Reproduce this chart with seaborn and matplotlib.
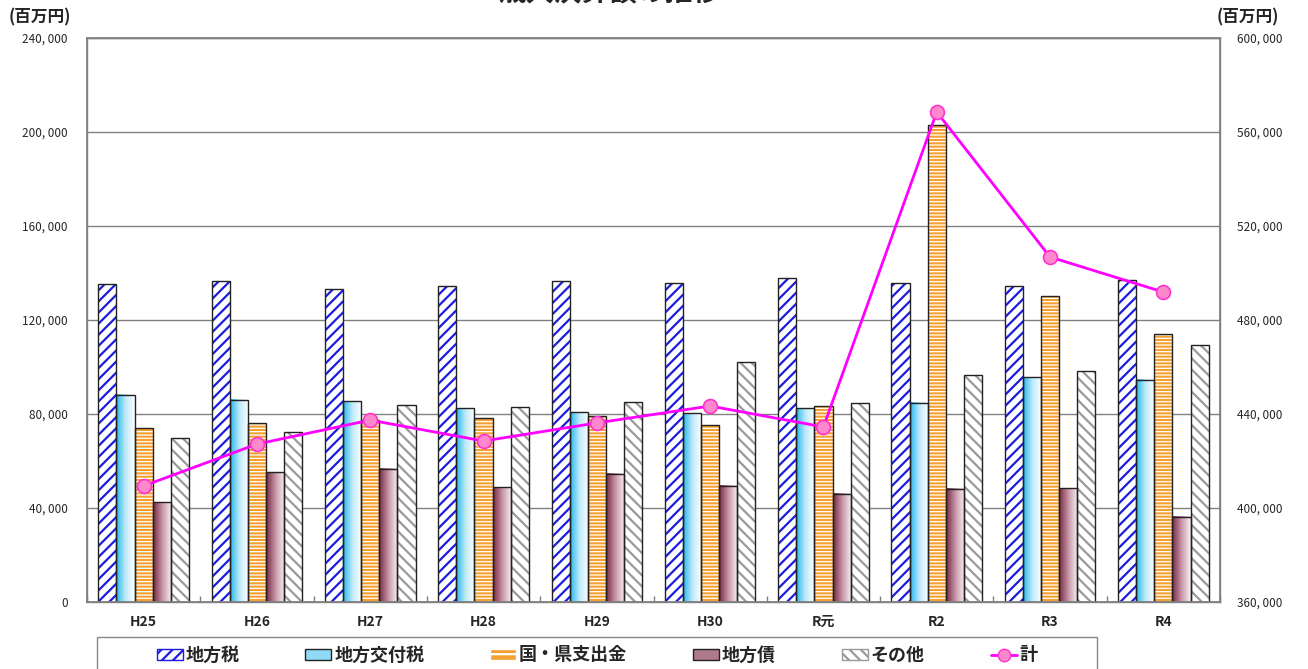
import numpy as np
import pandas as pd
import matplotlib
matplotlib.use('Agg')
import matplotlib.pyplot as plt
import seaborn as sns
from matplotlib.patches import Patch, Rectangle
from matplotlib.lines import Line2D
from matplotlib.colors import LinearSegmentedColormap
from matplotlib.ticker import FuncFormatter, MultipleLocator

years = ['H25', 'H26', 'H27', 'H28', 'H29', 'H30', 'R元', 'R2', 'R3', 'R4']
series = ['地方税', '地方交付税', '国・県支出金', '地方債', 'その他']
chihouzei = [135300, 136600, 133200, 134500, 136600, 135700, 137900, 135700, 134500, 137000]
koufuzei = [88100, 86000, 85500, 82500, 80800, 80400, 82500, 84700, 95700, 94500]
kokken = [74000, 76200, 77400, 78300, 79100, 75300, 83400, 203000, 130200, 114000]
chihousai = [42550, 55300, 56600, 48900, 54500, 49400, 46000, 48100, 48500, 36200]
sonota = [69800, 72300, 83800, 83000, 85100, 102100, 84700, 96600, 98300, 109400]
total = [409400, 427200, 437400, 428500, 436200, 443400, 434500, 568500, 506800, 491900]

df = pd.DataFrame({'年度': years, '地方税': chihouzei, '地方交付税': koufuzei,
                   '国・県支出金': kokken, '地方債': chihousai, 'その他': sonota})
long = df.melt(id_vars='年度', var_name='区分', value_name='金額')

sns.set_theme(style='white')
plt.rcParams['font.family'] = ['Noto Sans CJK JP', 'DejaVu Sans']
plt.rcParams['hatch.linewidth'] = 1.6

fig = plt.figure(figsize=(13.08, 6.69), dpi=100)
ax = fig.add_axes([87/1308, 1-602/669, (1220-87)/1308, (602-38)/669])

sns.barplot(data=long, x='年度', y='金額', hue='区分', hue_order=series,
            order=years, width=0.8, ax=ax, legend=False, errorbar=None,
            palette=['white'] * 5, saturation=1)

blue = '#1c1ce0'
orange = '#f5a030'
gray = '#9a9a9a'
cyan_cmap = LinearSegmentedColormap.from_list('c', ['#25b8ef', '#bfeafb', '#ffffff'])
maroon_cmap = LinearSegmentedColormap.from_list('m', ['#7a2a45', '#c796a8', '#fbf3f6'])
grad = np.linspace(0, 1, 64).reshape(1, -1)

styles = {
    '地方税': dict(face='white', hatch='///', hcol=blue),
    '地方交付税': dict(cmap=cyan_cmap),
    '国・県支出金': dict(face=orange, hatch='-----', hcol='white'),
    '地方債': dict(cmap=maroon_cmap),
    'その他': dict(face='white', hatch='\\\\\\', hcol=gray),
}

for name, cont in zip(series, ax.containers):
    st = styles[name]
    for bar in cont:
        x, w, h = bar.get_x(), bar.get_width(), bar.get_height()
        if 'cmap' in st:
            bar.set_facecolor('none')
            ax.imshow(grad, extent=[x, x + w, 0, h], aspect='auto',
                      cmap=st['cmap'], zorder=1.5, interpolation='bilinear')
        else:
            bar.set_facecolor(st['face'])
            bar.set_edgecolor(st['hcol'])
            bar.set_hatch(st['hatch'])
            if name == '国・県支出金' and hasattr(bar, 'set_hatch_linewidth'):
                bar.set_hatch_linewidth(0.9)
        bar.set_linewidth(0)
        bar.set_zorder(1.6)
        ax.add_patch(Rectangle((x, 0), w, h, fill=False, edgecolor='#222222',
                               lw=1, zorder=2))

ax.set_xlim(-0.5, len(years) - 0.5)
ax.set_ylim(0, 240000)
ax.yaxis.set_major_locator(MultipleLocator(40000))
fmt = FuncFormatter(lambda v, p: '0' if v == 0 else f'{int(v):,}'.replace(',', ', '))
ax.yaxis.set_major_formatter(fmt)
ax.grid(axis='y', color='#808080', lw=1)
ax.set_axisbelow(True)
ax.set_xlabel('')
ax.set_ylabel('')
ax.set_xticks(range(len(years)))
ax.set_xticklabels(years, fontweight='bold', fontsize=10)
ax.set_xticks(np.arange(-0.5, len(years), 1), minor=True)
ax.tick_params(axis='x', which='major', length=0, pad=9)
ax.tick_params(axis='x', which='minor', length=4, direction='in', color='#808080', bottom=True)
ax.tick_params(axis='y', labelsize=8.5, length=0, pad=14)
for s in ax.spines.values():
    s.set_color('#808080')
    s.set_linewidth(1)

ax2 = ax.twinx()
sns.lineplot(x=np.arange(len(years)), y=total, ax=ax2, color='#ff00ff', lw=2,
             marker='o', markersize=10, markerfacecolor='#ff88cc',
             markeredgecolor='#ff33cc', markeredgewidth=1.2, zorder=5)
ax2.set_ylim(360000, 600000)
ax2.yaxis.set_major_locator(MultipleLocator(40000))
ax2.yaxis.set_major_formatter(FuncFormatter(lambda v, p: f'{int(v):,}'.replace(',', ', ')))
ax2.tick_params(axis='y', labelsize=8.5, length=0, pad=12)
ax2.grid(False)
for s in ax2.spines.values():
    s.set_color('#808080')

# title is partly above the top edge, as in the original
fig.text(609/1308, 1 + 7/669, '歳入決算額の推移', ha='center', va='center',
         fontsize=20, fontweight='bold')
fig.text(40/1308, 1 - 17/669, '(百万円)', ha='center', va='center',
         fontsize=12, fontweight='bold')
fig.text(1248/1308, 1 - 17/669, '(百万円)', ha='center', va='center',
         fontsize=12, fontweight='bold')

handles = [
    Patch(facecolor='white', edgecolor=blue, hatch='///'),
    Patch(facecolor='#8fdaf6', edgecolor='#222222'),
    Patch(facecolor=orange, edgecolor='white', hatch='--'),
    Patch(facecolor='#b07a8e', edgecolor='#222222'),
    Patch(facecolor='white', edgecolor=gray, hatch='\\\\\\'),
    Line2D([], [], color='#ff00ff', lw=2, marker='o', markersize=9,
           markerfacecolor='#ff88cc', markeredgecolor='#ff33cc'),
]
labels = series + ['計']
fig.legend(handles, labels, loc='center', bbox_to_anchor=(597/1308, 1 - 655/669),
           ncol=6, frameon=False, prop={'weight': 'bold', 'size': 13},
           handlelength=1.45, handleheight=0.55, handletextpad=0.15,
           columnspacing=3.65, borderpad=0)
fig.patches.append(Rectangle((97/1308, -0.05), 1000/1308, 0.05 + 1 - 637/669,
                             transform=fig.transFigure, fill=False,
                             edgecolor='#888888', lw=1))

fig.savefig('out.png', dpi=100)
